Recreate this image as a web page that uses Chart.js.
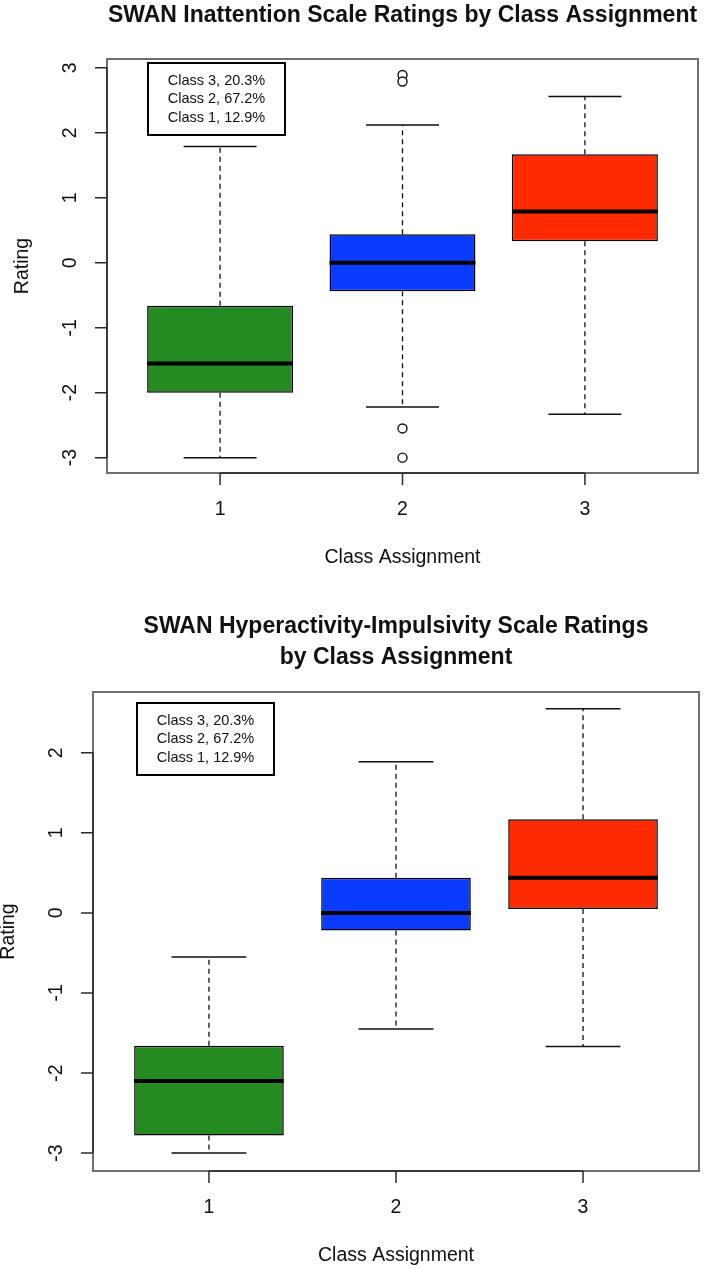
<!DOCTYPE html>
<html><head><meta charset="utf-8">
<script src="https://cdn.jsdelivr.net/npm/chart.js@4.4.0/dist/chart.umd.min.js"></script>
<style>
html,body{margin:0;padding:0;background:#fff;}
#wrap{position:relative;width:709px;height:1269px;overflow:hidden;}
.c{position:absolute;left:0;width:709px;}
</style></head><body>
<div id="wrap">
<div class="c" style="top:0;height:600px"><canvas id="c1"></canvas></div>
<div class="c" style="top:600px;height:669px"><canvas id="c2"></canvas></div>
</div>
<script>
// ---------- data ----------
const categories = [1, 2, 3];
const boxColors = ['#258A22', '#0A3CFF', '#FF2A00'];
const legendLines = ['Class 3, 20.3%', 'Class 2, 67.2%', 'Class 1, 12.9%'];

// SWAN Inattention
const inatTitle = ['SWAN Inattention Scale Ratings by Class Assignment'];
const inatMin = [-3.0, -2.22, -2.33];
const inatQ1 = [-2.0, -0.44, 0.33];
const inatMedian = [-1.55, 0.0, 0.79];
const inatQ3 = [-0.66, 0.44, 1.67];
const inatMax = [1.79, 2.12, 2.56];
const inatOutlierClass = [2, 2, 2, 2];
const inatOutlierValue = [2.89, 2.79, -2.55, -3.0];

// SWAN Hyperactivity-Impulsivity
const hypTitle = ['SWAN Hyperactivity-Impulsivity Scale Ratings', 'by Class Assignment'];
const hypMin = [-3.0, -1.45, -1.67];
const hypQ1 = [-2.78, -0.22, 0.05];
const hypMedian = [-2.1, 0.0, 0.44];
const hypQ3 = [-1.66, 0.44, 1.17];
const hypMax = [-0.55, 1.89, 2.55];
const hypOutlierClass = [];
const hypOutlierValue = [];

const axisXTitle = 'Class Assignment';
const axisYTitle = 'Rating';

// ---------- drawing helpers ----------
const FONT = "'Liberation Sans', Arial, Helvetica, sans-serif";

const rBoxPlugin = {
  id: 'rbox',
  afterDatasetsDraw(chart, args, o) {
    const ctx = chart.ctx, xs = chart.scales.x, ys = chart.scales.y;
    const meta = chart.getDatasetMeta(0);
    ctx.save();
    categories.forEach((c, i) => {
      const cx = xs.getPixelForValue(c);
      const bw = meta.data[i].width;
      const half = bw / 2, cap = bw / 4;
      const pMin = ys.getPixelForValue(o.min[i]);
      const pMax = ys.getPixelForValue(o.max[i]);
      const pQ1 = ys.getPixelForValue(o.q1[i]);
      const pQ3 = ys.getPixelForValue(o.q3[i]);
      const pMed = ys.getPixelForValue(o.med[i]);
      ctx.strokeStyle = '#111';
      ctx.lineWidth = 1.3;
      ctx.setLineDash([5, 4]);
      ctx.beginPath();
      ctx.moveTo(cx, pQ3); ctx.lineTo(cx, pMax);
      ctx.moveTo(cx, pQ1); ctx.lineTo(cx, pMin);
      ctx.stroke();
      ctx.setLineDash([]);
      ctx.lineWidth = 1.5;
      ctx.beginPath();
      ctx.moveTo(cx - cap, pMax); ctx.lineTo(cx + cap, pMax);
      ctx.moveTo(cx - cap, pMin); ctx.lineTo(cx + cap, pMin);
      ctx.stroke();
      ctx.strokeStyle = '#000';
      ctx.lineWidth = 4;
      ctx.beginPath();
      ctx.moveTo(cx - half, pMed); ctx.lineTo(cx + half, pMed);
      ctx.stroke();
    });
    ctx.restore();
  },
  afterDraw(chart, args, o) {
    const ctx = chart.ctx, xs = chart.scales.x, ys = chart.scales.y;
    const a = chart.chartArea;
    ctx.save();
    // frame
    ctx.strokeStyle = '#6f6f6f';
    ctx.lineWidth = 2;
    ctx.strokeRect(a.left, a.top, a.right - a.left, a.bottom - a.top);
    // axes
    const yt = ys.ticks.map(t => t.value);
    const xt = xs.ticks.map(t => t.value);
    ctx.strokeStyle = '#2a2a2a';
    ctx.lineWidth = 1.5;
    ctx.beginPath();
    ctx.moveTo(a.left, ys.getPixelForValue(yt[0]));
    ctx.lineTo(a.left, ys.getPixelForValue(yt[yt.length - 1]));
    yt.forEach(v => { const p = ys.getPixelForValue(v); ctx.moveTo(a.left, p); ctx.lineTo(a.left - 12, p); });
    ctx.moveTo(xs.getPixelForValue(xt[0]), a.bottom);
    ctx.lineTo(xs.getPixelForValue(xt[xt.length - 1]), a.bottom);
    xt.forEach(v => { const p = xs.getPixelForValue(v); ctx.moveTo(p, a.bottom); ctx.lineTo(p, a.bottom + 12); });
    ctx.stroke();
    // tick labels
    ctx.fillStyle = '#111';
    ctx.font = '19.5px ' + FONT;
    ctx.textAlign = 'center';
    ctx.textBaseline = 'middle';
    yt.forEach(v => {
      const p = ys.getPixelForValue(v);
      ctx.save(); ctx.translate(a.left - 36, p); ctx.rotate(-Math.PI / 2);
      ctx.fillText(String(v), 0, 0); ctx.restore();
    });
    xt.forEach(v => {
      ctx.fillText(String(v), xs.getPixelForValue(v), a.bottom + 37);
    });
    // axis titles
    ctx.fillText(axisXTitle, (a.left + a.right) / 2, a.bottom + 85);
    ctx.save(); ctx.translate(a.left - 84, (a.top + a.bottom) / 2); ctx.rotate(-Math.PI / 2);
    ctx.fillText(axisYTitle, 0, 0); ctx.restore();
    // main title
    ctx.font = 'bold 23px ' + FONT;
    ctx.textBaseline = 'alphabetic';
    o.title.forEach((t, k) => ctx.fillText(t, (a.left + a.right) / 2, o.titleY[k]));
    // legend box
    const L = o.legend;
    ctx.fillStyle = '#fff';
    ctx.fillRect(L.x, L.y, L.w, L.h);
    ctx.strokeStyle = '#000';
    ctx.lineWidth = 2;
    ctx.strokeRect(L.x, L.y, L.w, L.h);
    ctx.fillStyle = '#111';
    ctx.font = '14.5px ' + FONT;
    ctx.textBaseline = 'middle';
    legendLines.forEach((t, k) => ctx.fillText(t, L.x + L.w / 2, L.y + L.h / 2 + (k - 1) * 18.5));
    ctx.restore();
  }
};

function buildChart(id, p) {
  return new Chart(document.getElementById(id), {
    type: 'bar',
    data: {
      datasets: [
        {
          type: 'bar',
          data: categories.map((c, i) => ({ x: c, y: [p.q1[i], p.q3[i]] })),
          backgroundColor: boxColors,
          borderColor: '#000',
          borderWidth: 1.5,
          borderSkipped: false,
          barPercentage: 0.8,
          categoryPercentage: 1.0,
          grouped: false
        },
        {
          type: 'scatter',
          data: p.outX.map((c, i) => ({ x: c, y: p.outY[i] })),
          pointRadius: 4.5,
          pointBorderWidth: 1.4,
          pointBackgroundColor: '#fff',
          pointBorderColor: '#111',
          backgroundColor: '#fff',
          borderColor: '#111',
          showLine: false
        }
      ]
    },
    options: {
      responsive: true,
      maintainAspectRatio: false,
      animation: false,
      devicePixelRatio: 1,
      layout: { padding: p.padding },
      plugins: {
        legend: { display: false },
        tooltip: { enabled: false },
        rbox: {
          min: p.min, q1: p.q1, med: p.med, q3: p.q3, max: p.max,
          title: p.title, titleY: p.titleY, legend: p.legend
        }
      },
      scales: {
        x: { type: 'linear', min: 0.38, max: 3.62, offset: false, bounds: 'ticks', grace: 0, display: false, ticks: { stepSize: 1, includeBounds: false } },
        y: { type: 'linear', min: p.yMin, max: p.yMax, offset: false, grace: 0, display: false, ticks: { stepSize: 1, includeBounds: false } }
      }
    },
    plugins: [rBoxPlugin]
  });
}

buildChart('c1', {
  min: inatMin, q1: inatQ1, med: inatMedian, q3: inatQ3, max: inatMax,
  outX: inatOutlierClass, outY: inatOutlierValue,
  yMin: -3.236, yMax: 3.136,
  padding: { left: 107, right: 11, top: 59, bottom: 127 },
  title: inatTitle, titleY: [22],
  legend: { x: 148, y: 63, w: 137, h: 72 }
});

buildChart('c2', {
  min: hypMin, q1: hypQ1, med: hypMedian, q3: hypQ3, max: hypMax,
  outX: hypOutlierClass, outY: hypOutlierValue,
  yMin: -3.225, yMax: 2.76,
  padding: { left: 93, right: 10, top: 92, bottom: 98 },
  title: hypTitle, titleY: [33, 64],
  legend: { x: 137, y: 103, w: 137, h: 72 }
});
</script>
</body></html>
